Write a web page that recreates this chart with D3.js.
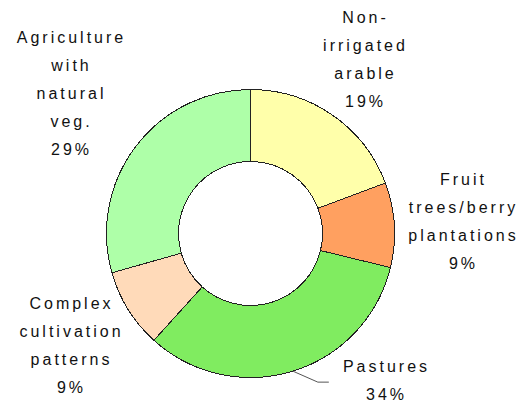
<!DOCTYPE html>
<html>
<head>
<meta charset="utf-8">
<script src="https://cdnjs.cloudflare.com/ajax/libs/d3/7.8.5/d3.min.js"></script>
<style>
  body { margin: 0; background: #fff; }
  svg text { font-family: "Liberation Sans", Arial, sans-serif; font-size: 16px; letter-spacing: 3px; fill: #111; }
</style>
</head>
<body>
<svg id="chart" width="522" height="404"></svg>
<script>
// land use categories, clockwise from 12 o'clock
var categories = ["Non-irrigated arable", "Fruit trees/berry plantations", "Pastures", "Complex cultivation patterns", "Agriculture with natural veg."];
// slice sizes
var shares = [19.3, 9.5, 32.9, 8.9, 29.4];
// percentages printed on the labels
var pctText = ["19%", "9%", "34%", "9%", "29%"];
// label text, split per line like the original
var labelLines = [
    ["Non-", "irrigated", "arable"],
    ["Fruit", "trees/berry", "plantations"],
    ["Pastures"],
    ["Complex", "cultivation", "patterns"],
    ["Agriculture", "with", "natural", "veg."]
];
var colors = ["#ffffaa", "#ffa060", "#80ec60", "#ffdab9", "#aeffa8"];

// layout
var cx = 250.5, cy = 233.5, outerR = 144, innerR = 72;
var lineH = 28;
// label block: center x, first baseline
var labelPos = [[364, 23], [462, 185], [385, 372], [70, 309], [70, 43]];

var svg = d3.select("#chart");
var g = svg.append("g").attr("transform", "translate(" + cx + "," + cy + ")");

var pie = d3.pie().sort(null).value(function(d){ return d; });
var arc = d3.arc().innerRadius(innerR).outerRadius(outerR);
var arcs = pie(shares);

g.selectAll("path.slice")
    .data(arcs)
    .enter().append("path")
    .attr("class", "slice")
    .attr("d", arc)
    .attr("fill", function(d, i){ return colors[i]; })
    .attr("stroke", "#222")
    .attr("stroke-width", 1)
    .attr("shape-rendering", "crispEdges");

// leader line for pastures, from the outer edge at mid angle
var p = arcs[2];
var mid = (p.startAngle + p.endAngle) / 2;
var x0 = cx + outerR * Math.sin(mid), y0 = cy - outerR * Math.cos(mid);
svg.append("polyline")
    .attr("points", x0 + "," + y0 + " " + (x0 + 25) + "," + (y0 + 11) + " " + (x0 + 36) + "," + (y0 + 11))
    .attr("fill", "none")
    .attr("stroke", "#555")
    .attr("stroke-width", 1);

// labels
categories.forEach(function(c, i){
    var lines = labelLines[i].concat([pctText[i]]);
    var t = svg.append("text")
        .attr("text-anchor", "middle");
    lines.forEach(function(s, k){
        t.append("tspan")
            .attr("x", labelPos[i][0] + 1.5)
            .attr("y", labelPos[i][1] + k * lineH)
            .text(s);
    });
});
</script>
</body>
</html>
